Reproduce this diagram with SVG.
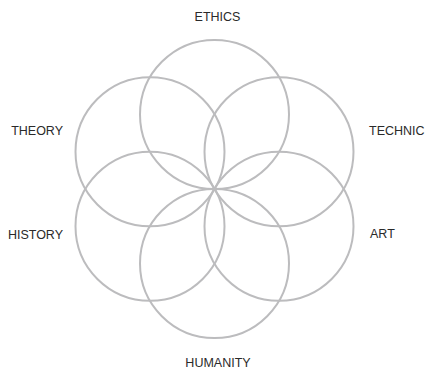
<svg xmlns="http://www.w3.org/2000/svg" width="428" height="375" viewBox="0 0 428 375">
<style>
.c{fill:none;stroke:#bcbcbe;stroke-width:2}
.t{font-family:"Liberation Sans",Arial,sans-serif;font-size:12.5px;fill:#2a2a2a}
</style>
<rect width="428" height="375" fill="#fff"/>
<g id="circles">
<g id="ethics-circle"><circle class="c" cx="214.5" cy="114.5" r="74.5"/></g>
<g id="technic-circle"><circle class="c" cx="279" cy="151.75" r="74.5"/></g>
<g id="art-circle"><circle class="c" cx="279" cy="226.25" r="74.5"/></g>
<g id="humanity-circle"><circle class="c" cx="214.5" cy="263.5" r="74.5"/></g>
<g id="history-circle"><circle class="c" cx="150" cy="226.25" r="74.5"/></g>
<g id="theory-circle"><circle class="c" cx="150" cy="151.75" r="74.5"/></g>
</g>
<g id="labels">
<g id="ethics"><text class="t" x="217.5" y="21" text-anchor="middle">ETHICS</text></g>
<g id="technic"><text class="t" x="369" y="135">TECHNIC</text></g>
<g id="art"><text class="t" x="370" y="238">ART</text></g>
<g id="humanity"><text class="t" x="218" y="367" text-anchor="middle">HUMANITY</text></g>
<g id="history"><text class="t" x="63" y="239" text-anchor="end">HISTORY</text></g>
<g id="theory"><text class="t" x="63" y="135" text-anchor="end">THEORY</text></g>
</g>
</svg>
